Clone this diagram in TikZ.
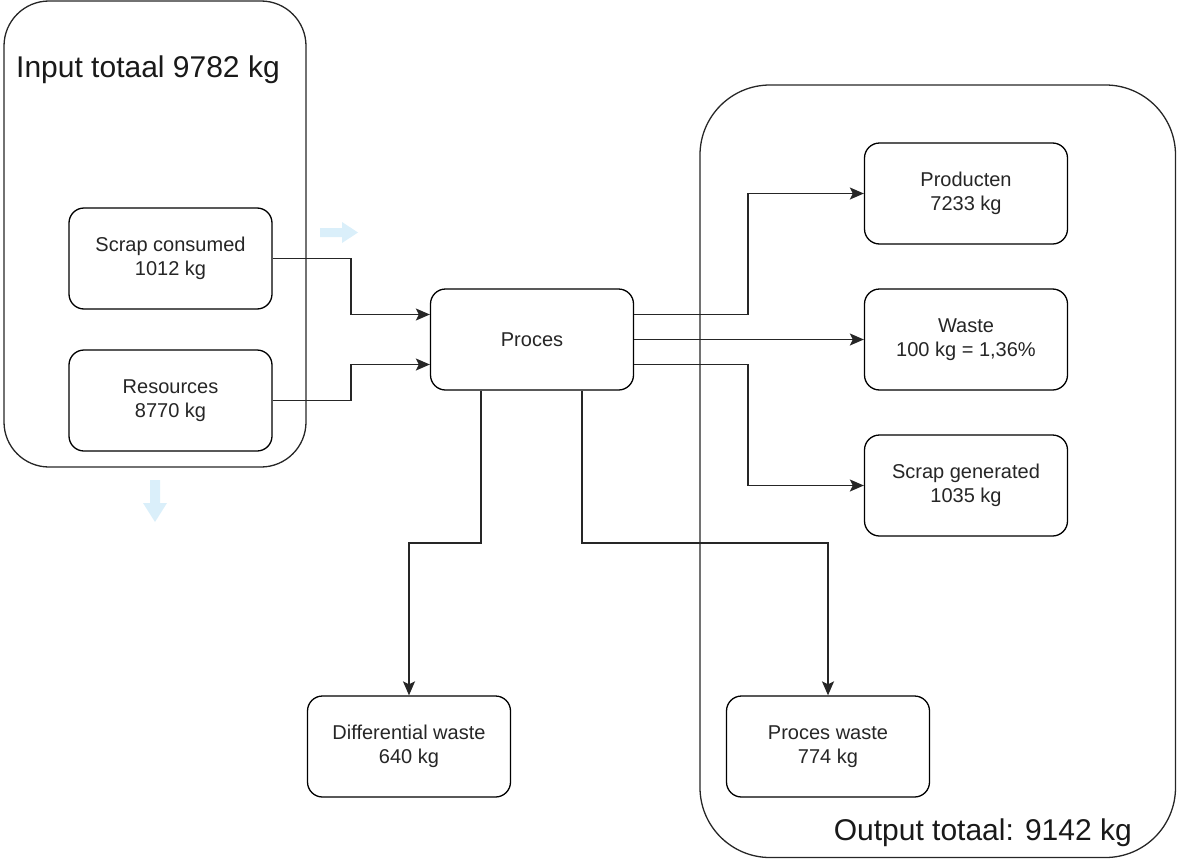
\documentclass[tikz,border=0pt]{standalone}
\usepackage{fontspec}
\setmainfont{Liberation Sans}
\usetikzlibrary{arrows.meta,calc}
\definecolor{hintblue}{HTML}{DAEFFA}
\begin{document}
\begin{tikzpicture}[x=1pt,y=-1pt,
  box/.style={draw=black,line width=1.3pt,rounded corners=15pt,fill=white,
    minimum width=203pt,minimum height=101pt,align=center,inner sep=0pt,
    font=\fontsize{20}{24}\selectfont,text=black!85},
  container/.style={draw=black!85,line width=1.3pt},
  conn/.style={draw=black!85,line width=1.5pt,-{Stealth[length=14pt,width=12pt,inset=3pt]}},
  hint/.style={fill=hintblue,draw=none},
  title/.style={font=\fontsize{30}{36}\selectfont,text=black!90,inner sep=0pt}]
\useasboundingbox (0,0) rectangle (1177,859);
% containers
\draw[container,rounded corners=45pt] (4,1) rectangle (306,467);
\draw[container,rounded corners=70pt] (700,85) rectangle (1175.5,857.5);
\node[title,anchor=west] (tin) at (16,70) {Input totaal 9782 kg};
\node[title,anchor=east] (tout) at (1132,833) {Output totaal: 9142 kg};
% nodes
\node[box] (sc) at (170.5,258.5) {Scrap consumed\\1012 kg};
\node[box] (rs) at (170.5,400.5) {Resources\\8770 kg};
\node[box] (pr) at (532,339.5) {Proces};
\node[box] (pd) at (966,193.5) {Producten\\7233 kg};
\node[box] (ws) at (966,339.5) {Waste\\100 kg = 1,36\%};
\node[box] (sg) at (966,485.5) {Scrap generated\\1035 kg};
\node[box] (dw) at (409,746.5) {Differential waste\\640 kg};
\node[box] (pw) at (828,746.5) {Proces waste\\774 kg};
% connectors
\draw[conn] (sc.east) -- (351,258.5) |- ($(pr.west)+(0,-25)$);
\draw[conn] (rs.east) -- (351,400.5) |- ($(pr.west)+(0,25)$);
\draw[conn] ($(pr.east)+(0,-25)$) -- (748,314.5) |- (pd.west);
\draw[conn] (pr.east) -- (ws.west);
\draw[conn] ($(pr.east)+(0,25)$) -- (748,364.5) |- (sg.west);
\draw[conn] ($(pr.south)+(-51,0)$) -- (481,543) -| (dw.north);
\draw[conn] ($(pr.south)+(50,0)$) -- (582,543) -| (pw.north);
% light blue hint arrows
\fill[hint] (320,228) -- (342,228) -- (342,222) -- (358,232.5) -- (342,243) -- (342,237) -- (320,237) -- cycle;
\fill[hint] (150,480) -- (160,480) -- (160,503) -- (167,503) -- (155,522) -- (143,503) -- (150,503) -- cycle;
\end{tikzpicture}
\end{document}
